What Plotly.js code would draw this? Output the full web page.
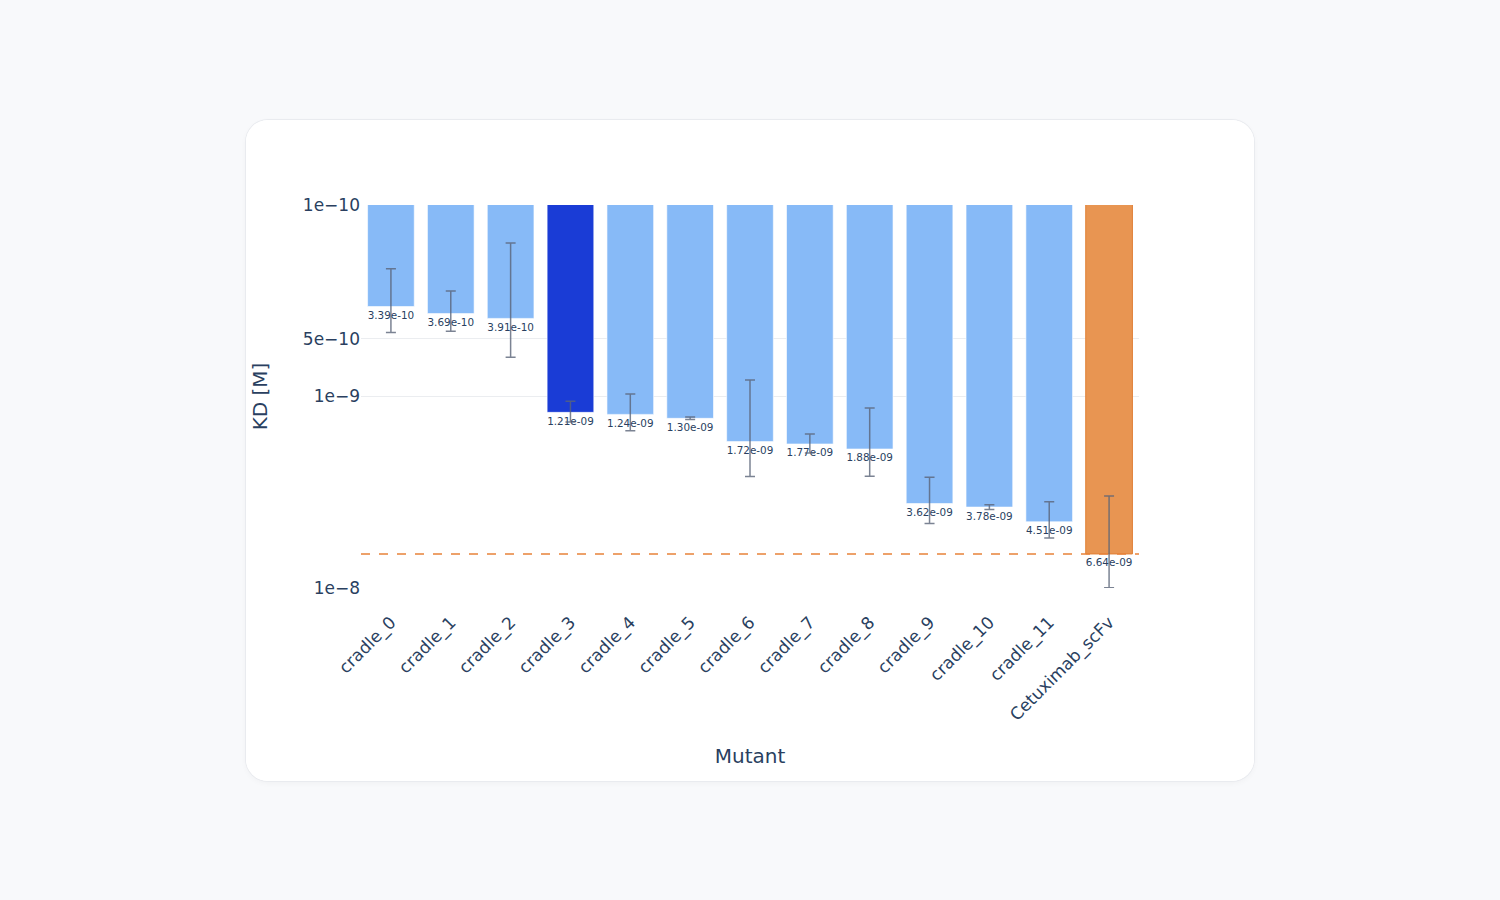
<!DOCTYPE html>
<html>
<head>
<meta charset="utf-8">
<script src="https://cdn.plot.ly/plotly-3.0.1.min.js"></script>
<style>
  body { margin: 0; background: #f8f9fb; width: 1500px; height: 900px; }
  #card {
    position: absolute; left: 246px; top: 120px;
    width: 1008px; height: 661px;
    background: #fff; border-radius: 22px;
    box-shadow: 0 0 0 1px #e9ebef, 0 2px 6px rgba(0,0,0,0.04);
    overflow: hidden;
  }
  #chart { width: 1008px; height: 661px; }
</style>
</head>
<body>
<div id="card"><div id="chart"></div></div>
<script>
var mutants = ['cradle_0', 'cradle_1', 'cradle_2', 'cradle_3', 'cradle_4', 'cradle_5',
  'cradle_6', 'cradle_7', 'cradle_8', 'cradle_9', 'cradle_10', 'cradle_11', 'Cetuximab_scFv'];
var kd = [3.39e-10, 3.69e-10, 3.91e-10, 1.21e-9, 1.24e-9, 1.30e-9,
  1.72e-9, 1.77e-9, 1.88e-9, 3.62e-9, 3.78e-9, 4.51e-9, 6.64e-9];
var kdErr = [1.24e-10, 0.88e-10, 2.33e-10, 0.15e-9, 0.27e-9, 0.02e-9,
  0.90e-9, 0.20e-9, 0.73e-9, 0.98e-9, 0.11e-9, 0.97e-9, 3.33e-9];
var reference = 6.64e-9;
var yTickVals = [1e-10, 5e-10, 1e-9, 1e-8];
var yTickText = ['1e\u221210', '5e\u221210', '1e\u22129', '1e\u22128'];

// python-style "1.21e-09" labels
function sci(v) {
  var parts = v.toExponential(2).split('e');
  var exp = parseInt(parts[1], 10);
  var sign = exp < 0 ? '-' : '+';
  var mag = Math.abs(exp);
  return parts[0] + 'e' + sign + (mag < 10 ? '0' + mag : mag);
}

var barColors = mutants.map(function (m, i) {
  if (m === 'Cetuximab_scFv') return '#e89552';
  if (i === 3) return '#1a3cd6';
  return '#87baf7';
});
var lineColors = mutants.map(function (m) {
  return m === 'Cetuximab_scFv' ? '#e07f35' : 'rgba(255,255,255,0.6)';
});

var bars = {
  x: mutants,
  y: kd,
  type: 'bar',
  marker: { color: barColors, line: { color: lineColors, width: 1 } },
  error_y: {
    type: 'data', array: kdErr, visible: true,
    color: 'rgba(90,100,120,0.8)', thickness: 1.5, width: 5
  },
  text: kd.map(sci),
  textposition: 'outside',
  textfont: { size: 11, color: '#2a3f5f' },
  cliponaxis: false,
  hovertemplate: '%{x}: %{text}<extra></extra>'
};

var font = 'Verdana, "DejaVu Sans", sans-serif';
var layout = {
  width: 1008,
  height: 661,
  margin: { l: 115, r: 115, t: 85, b: 193 },
  paper_bgcolor: '#fff',
  plot_bgcolor: '#fff',
  font: { family: font, color: '#2a3f5f', size: 16 },
  showlegend: false,
  bargap: 0.22,
  xaxis: {
    type: 'category',
    tickangle: -45,
    tickfont: { size: 17 },
    ticklabelstandoff: 20,
    title: { text: 'Mutant', font: { size: 20 }, standoff: 24 },
    showgrid: false,
    zeroline: false
  },
  yaxis: {
    type: 'log',
    range: [-8, -10],
    tickmode: 'array',
    tickvals: yTickVals,
    ticktext: yTickText,
    tickfont: { size: 17 },
    gridcolor: '#ebedf0',
    zeroline: false,
    title: { text: 'KD [M]', font: { size: 20 }, standoff: 29 }
  },
  shapes: [{
    type: 'line', xref: 'paper', x0: 0, x1: 1,
    yref: 'y', y0: reference, y1: reference,
    line: { color: '#e8823a', width: 1.5, dash: 'dash' }
  }]
};

Plotly.newPlot('chart', [bars], layout, { displayModeBar: false });
</script>
</body>
</html>
